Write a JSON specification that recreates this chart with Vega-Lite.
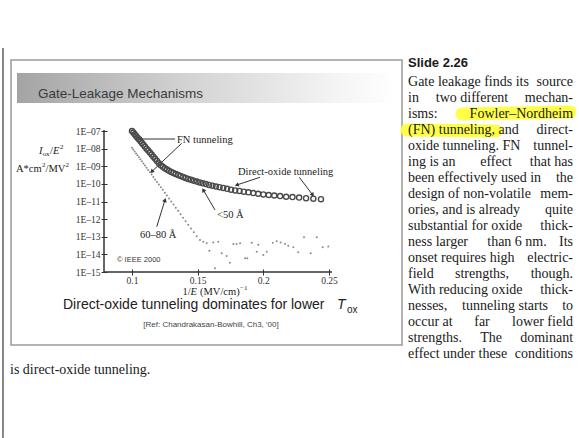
{
  "$schema": "https://vega.github.io/schema/vega-lite/v6.json",
  "width": 228,
  "height": 141,
  "autosize": {"type": "none"},
  "padding": {"left": 104, "top": 131, "right": 247, "bottom": 166},
  "background": "white",
  "config": {"view": {"stroke": null}},
  "datasets": {
    "fn": [
      {"x":0.1,"y":-7.0},{"x":0.10101,"y":-7.09},{"x":0.10204,"y":-7.18},{"x":0.10309,"y":-7.28},{"x":0.10417,"y":-7.38},{"x":0.10526,"y":-7.47},{"x":0.10638,"y":-7.57},{"x":0.10753,"y":-7.68},{"x":0.1087,"y":-7.78},{"x":0.10989,"y":-7.89},{"x":0.11111,"y":-8.0},{"x":0.11236,"y":-8.11},{"x":0.11364,"y":-8.22},{"x":0.11494,"y":-8.34},{"x":0.11628,"y":-8.46},{"x":0.11765,"y":-8.58},{"x":0.11905,"y":-8.7},{"x":0.12048,"y":-8.83},{"x":0.12195,"y":-8.94},{"x":0.12346,"y":-9.03},{"x":0.125,"y":-9.12},{"x":0.12658,"y":-9.19},{"x":0.12821,"y":-9.26},{"x":0.12987,"y":-9.33},{"x":0.13158,"y":-9.38},{"x":0.13333,"y":-9.44},{"x":0.13514,"y":-9.5},{"x":0.13699,"y":-9.55},{"x":0.13889,"y":-9.61},{"x":0.14085,"y":-9.66},{"x":0.14286,"y":-9.72},{"x":0.14493,"y":-9.77},{"x":0.14706,"y":-9.82},{"x":0.14925,"y":-9.87},{"x":0.15152,"y":-9.92},{"x":0.15385,"y":-9.97},{"x":0.15625,"y":-10.01},{"x":0.15873,"y":-10.06},{"x":0.16129,"y":-10.1},{"x":0.16393,"y":-10.15},{"x":0.16667,"y":-10.19},{"x":0.16949,"y":-10.23},{"x":0.17241,"y":-10.28},{"x":0.17544,"y":-10.33},{"x":0.17857,"y":-10.37},{"x":0.18182,"y":-10.4},{"x":0.18519,"y":-10.44},{"x":0.18868,"y":-10.48},{"x":0.19231,"y":-10.52},{"x":0.19608,"y":-10.56},{"x":0.2,"y":-10.6},{"x":0.20408,"y":-10.63},{"x":0.20833,"y":-10.66},{"x":0.21277,"y":-10.69},{"x":0.21739,"y":-10.73},{"x":0.22222,"y":-10.75},{"x":0.22727,"y":-10.78},{"x":0.23256,"y":-10.81},{"x":0.2381,"y":-10.84},{"x":0.2439,"y":-10.87}
    ],
    "thin": [
      {"x":0.1,"y":-7.95},{"x":0.10101,"y":-8.05},{"x":0.10204,"y":-8.16},{"x":0.10309,"y":-8.27},{"x":0.10417,"y":-8.38},{"x":0.10526,"y":-8.49},{"x":0.10638,"y":-8.6},{"x":0.10753,"y":-8.72},{"x":0.1087,"y":-8.84},{"x":0.10989,"y":-8.96},{"x":0.11111,"y":-9.08},{"x":0.11236,"y":-9.21},{"x":0.11364,"y":-9.34},{"x":0.11494,"y":-9.47},{"x":0.11628,"y":-9.61},{"x":0.11765,"y":-9.75},{"x":0.11905,"y":-9.89},{"x":0.12048,"y":-10.04},{"x":0.12195,"y":-10.19},{"x":0.12346,"y":-10.34},{"x":0.125,"y":-10.5},{"x":0.12658,"y":-10.66},{"x":0.12821,"y":-10.83},{"x":0.12987,"y":-11.0},{"x":0.13158,"y":-11.17},{"x":0.13333,"y":-11.35},{"x":0.13514,"y":-11.53},{"x":0.13699,"y":-11.72},{"x":0.13889,"y":-11.92},{"x":0.14085,"y":-12.12},{"x":0.14286,"y":-12.32},{"x":0.14493,"y":-12.53},{"x":0.14706,"y":-12.75},{"x":0.14925,"y":-12.97},
      {"x":0.1518,"y":-13.18},{"x":0.1543,"y":-13.28},{"x":0.1569,"y":-13.37},{"x":0.1589,"y":-13.79},{"x":0.1619,"y":-13.32},{"x":0.1632,"y":-14.79},{"x":0.1657,"y":-13.28},{"x":0.1683,"y":-13.94},{"x":0.1721,"y":-14.09},{"x":0.1746,"y":-14.47},{"x":0.1772,"y":-13.41},{"x":0.1797,"y":-13.41},{"x":0.1823,"y":-13.37},{"x":0.1861,"y":-14.22},{"x":0.1878,"y":-14.22},{"x":0.1912,"y":-13.34},{"x":0.195,"y":-13.85},{"x":0.1962,"y":-13.45},{"x":0.2,"y":-14.04},{"x":0.2026,"y":-13.85},{"x":0.2072,"y":-13.34},{"x":0.2102,"y":-13.26},{"x":0.2132,"y":-13.32},{"x":0.2165,"y":-13.41},{"x":0.219,"y":-13.51},{"x":0.2229,"y":-13.6},{"x":0.2266,"y":-13.88},{"x":0.231,"y":-13.03},{"x":0.2361,"y":-13.94},{"x":0.2407,"y":-13.03},{"x":0.2452,"y":-13.6},{"x":0.2495,"y":-13.56}
    ],
    "pageline": [{"x":0.00179,"x2":0.00179,"y":-2.291,"y2":-24.418}],
    "slidebox": [{"x":0.00789,"x2":0.30561,"y":-2.972,"y2":-19.142}],
    "header": [{"x":0.01245,"x2":0.3018,"y":-3.709,"y2":-5.411}],
    "highlight": [
      {"x":0.3513,"x2":0.43353,"y":-6.035,"y2":-5.922},
      {"x":0.30942,"x2":0.37718,"y":-6.943,"y2":-7.0}
    ],
    "title": [{"x":0.02844,"y":-4.901,"t":"Gate-Leakage Mechanisms"}],
    "caption": [{"x":0.04748,"y":-16.872,"t":"Direct-oxide tunneling dominates for lower"}],
    "captionT": [{"x":0.25612,"y":-16.872,"t":"T"}],
    "captionSub": [{"x":0.26373,"y":-17.156,"t":"ox"}],
    "ref": [{"x":0.16017,"y":-18.007,"t":"[Ref: Chandrakasan-Bowhill, Ch3, '00]"}],
    "ieee": [{"x":0.0886,"y":-14.319,"t":"© IEEE 2000"}],
    "ann": [
      {"x":0.13429,"y":-7.511,"t":"FN tunneling"},
      {"x":0.18073,"y":-9.326,"t":"Direct-oxide tunneling"},
      {"x":0.16474,"y":-11.766,"t":"<50 Å"},
      {"x":0.10611,"y":-12.901,"t":"60–80 Å"},
      {"x":0.13847,"y":-16.135,"t":"1/"},
      {"x":0.1518,"y":-16.135,"t":"(MV/cm)"},
      {"x":0.03758,"y":-8.135,"t":"/"},
      {"x":0.01169,"y":-9.156,"t":"A*cm"},
      {"x":0.03416,"y":-9.156,"t":"/MV"}
    ],
    "annItalic": [
      {"x":0.14456,"y":-16.135,"t":"E"},
      {"x":0.02921,"y":-8.135,"t":"I"},
      {"x":0.03987,"y":-8.135,"t":"E"}
    ],
    "annSmall": [
      {"x":0.18226,"y":-15.908,"t":"−1"},
      {"x":0.03187,"y":-8.305,"t":"ox"},
      {"x":0.0452,"y":-7.908,"t":"2"},
      {"x":0.03149,"y":-8.929,"t":"2"},
      {"x":0.04938,"y":-8.929,"t":"2"}
    ],
    "bodyL": [
      {"x":0.31018,"y":-4.22,"t":"Gate leakage finds its"},
      {"x":0.31018,"y":-5.128,"t":"in"},
      {"x":0.31018,"y":-6.036,"t":"isms:"},
      {"x":0.31018,"y":-6.943,"t":"(FN) tunneling, and"},
      {"x":0.31018,"y":-7.851,"t":"oxide tunneling. FN"},
      {"x":0.31018,"y":-8.759,"t":"ing is an"},
      {"x":0.31018,"y":-9.667,"t":"been effectively used in"},
      {"x":0.31018,"y":-10.575,"t":"design of non-volatile"},
      {"x":0.31018,"y":-11.482,"t":"ories, and is already"},
      {"x":0.31018,"y":-12.39,"t":"substantial for oxide"},
      {"x":0.31018,"y":-13.298,"t":"ness larger"},
      {"x":0.31018,"y":-14.206,"t":"onset requires high"},
      {"x":0.31018,"y":-15.113,"t":"field"},
      {"x":0.31018,"y":-16.021,"t":"With reducing oxide"},
      {"x":0.31018,"y":-16.929,"t":"nesses,"},
      {"x":0.31018,"y":-17.837,"t":"occur at"},
      {"x":0.31018,"y":-18.745,"t":"strengths."},
      {"x":0.31018,"y":-19.652,"t":"effect under these"},
      {"x":0.00712,"y":-20.56,"t":"is direct-oxide tunneling."}
    ],
    "bodyC": [
      {"x":0.35891,"y":-5.128,"t":"two different"},
      {"x":0.37718,"y":-8.759,"t":"effect"},
      {"x":0.39317,"y":-13.298,"t":"than 6 nm."},
      {"x":0.36652,"y":-15.113,"t":"strengths,"},
      {"x":0.38404,"y":-16.929,"t":"tunneling starts"},
      {"x":0.36652,"y":-17.837,"t":"far"},
      {"x":0.37338,"y":-18.745,"t":"The"}
    ],
    "bodyR": [
      {"x":0.43582,"y":-4.22,"t":"source"},
      {"x":0.43582,"y":-5.128,"t":"mechan-"},
      {"x":0.43582,"y":-6.036,"t":"Fowler–Nordheim"},
      {"x":0.43582,"y":-6.943,"t":"direct-"},
      {"x":0.43582,"y":-7.851,"t":"tunnel-"},
      {"x":0.43582,"y":-8.759,"t":"that has"},
      {"x":0.43582,"y":-9.667,"t":"the"},
      {"x":0.43582,"y":-10.575,"t":"mem-"},
      {"x":0.43582,"y":-11.482,"t":"quite"},
      {"x":0.43582,"y":-12.39,"t":"thick-"},
      {"x":0.43582,"y":-13.298,"t":"Its"},
      {"x":0.43582,"y":-14.206,"t":"electric-"},
      {"x":0.43582,"y":-15.113,"t":"though."},
      {"x":0.43582,"y":-16.021,"t":"thick-"},
      {"x":0.43582,"y":-16.929,"t":"to"},
      {"x":0.43582,"y":-17.837,"t":"lower field"},
      {"x":0.43582,"y":-18.745,"t":"dominant"},
      {"x":0.43582,"y":-19.652,"t":"conditions"}
    ],
    "slide": [{"x":0.31018,"y":-3.142,"t":"Slide 2.26"}],
    "axes": [
      {"x":0.0787,"x2":0.0787,"y":-15,"y2":-6.95},
      {"x":0.0787,"x2":0.2523,"y":-15,"y2":-15}
    ],
    "arrows": [
      {"x":0.13276,"y":-7.454,"x2":0.10611,"y2":-7.454,"a":270},
      {"x":0.13786,"y":-7.698,"x2":0.11502,"y2":-9.309,"a":226.6},
      {"x":0.19748,"y":-9.627,"x2":0.17974,"y2":-10.064,"a":251.7},
      {"x":0.22741,"y":-9.627,"x2":0.23761,"y2":-10.631,"a":142.9},
      {"x":0.16322,"y":-11.482,"x2":0.15431,"y2":-10.348,"a":329.7},
      {"x":0.11883,"y":-12.43,"x2":0.12515,"y2":-10.915,"a":17.3}
    ]
  },
  "encoding": {
    "x": {
      "field": "x", "type": "quantitative",
      "scale": {"domain": [0.0787, 0.2523], "nice": false, "zero": false},
      "axis": {"values": [0.1, 0.15, 0.2, 0.25], "format": "~g", "title": null, "offset": -3, "tickSize": 6, "domain": false, "grid": false, "zindex": 2, "labelFont": "Liberation Serif", "labelFontSize": 9.5, "labelColor": "#333", "tickColor": "#333", "tickWidth": 1, "labelPadding": 0}
    },
    "y": {
      "field": "y", "type": "quantitative",
      "scale": {"domain": [-15, -7], "nice": false, "zero": false},
      "axis": {"values": [-15, -14, -13, -12, -11, -10, -9, -8, -7], "labelExpr": "'1E–' + (datum.value > -10 ? '0' : '') + format(-datum.value, 'd')", "title": null, "offset": -3, "tickSize": 6, "domain": false, "grid": false, "zindex": 2, "labelFont": "Liberation Serif", "labelFontSize": 9.5, "labelColor": "#333", "tickColor": "#333", "tickWidth": 1, "labelPadding": 1}
    }
  },
  "layer": [
    {"data": {"name": "pageline"}, "mark": {"type": "rule", "color": "#111", "strokeWidth": 1}, "encoding": {"x2": {"field": "x2"}, "y2": {"field": "y2"}}},
    {"data": {"name": "slidebox"}, "mark": {"type": "rect", "fill": "white", "stroke": "#9a9a9a", "strokeWidth": 1.5}, "encoding": {"x2": {"field": "x2"}, "y2": {"field": "y2"}}},
    {"data": {"name": "header"}, "mark": {"type": "rect", "fill": {"gradient": "linear", "x1": 0, "x2": 1, "y1": 0, "y2": 0, "stops": [{"offset": 0, "color": "#a4a4a4"}, {"offset": 0.45, "color": "#d3d3d3"}, {"offset": 0.85, "color": "#f5f5f5"}, {"offset": 1, "color": "#ffffff"}]}}, "encoding": {"x2": {"field": "x2"}, "y2": {"field": "y2"}}},
    {"data": {"name": "highlight"}, "mark": {"type": "rule", "color": "#ffff33", "strokeWidth": 13, "strokeCap": "round", "opacity": 0.9}, "encoding": {"x2": {"field": "x2"}, "y2": {"field": "y2"}}},
    {"data": {"name": "title"}, "mark": {"type": "text", "align": "left", "baseline": "middle", "font": "Liberation Sans", "fontSize": 13.5, "color": "#3a3a3a"}, "encoding": {"text": {"field": "t"}}},
    {"data": {"name": "caption"}, "mark": {"type": "text", "align": "left", "baseline": "middle", "font": "Liberation Sans", "fontSize": 14, "color": "#222"}, "encoding": {"text": {"field": "t"}}},
    {"data": {"name": "captionT"}, "mark": {"type": "text", "align": "left", "baseline": "middle", "font": "Liberation Sans", "fontSize": 14, "fontStyle": "italic", "color": "#222"}, "encoding": {"text": {"field": "t"}}},
    {"data": {"name": "captionSub"}, "mark": {"type": "text", "align": "left", "baseline": "middle", "font": "Liberation Sans", "fontSize": 10, "color": "#222"}, "encoding": {"text": {"field": "t"}}},
    {"data": {"name": "ref"}, "mark": {"type": "text", "align": "center", "baseline": "middle", "font": "Liberation Sans", "fontSize": 8, "color": "#444"}, "encoding": {"text": {"field": "t"}}},
    {"data": {"name": "ieee"}, "mark": {"type": "text", "align": "left", "baseline": "middle", "font": "Liberation Sans", "fontSize": 7.5, "color": "#333"}, "encoding": {"text": {"field": "t"}}},
    {"data": {"name": "ann"}, "mark": {"type": "text", "align": "left", "baseline": "middle", "font": "Liberation Serif", "fontSize": 10.5, "color": "#222"}, "encoding": {"text": {"field": "t"}}},
    {"data": {"name": "annItalic"}, "mark": {"type": "text", "align": "left", "baseline": "middle", "font": "Liberation Serif", "fontSize": 10.5, "fontStyle": "italic", "color": "#222"}, "encoding": {"text": {"field": "t"}}},
    {"data": {"name": "annSmall"}, "mark": {"type": "text", "align": "left", "baseline": "middle", "font": "Liberation Serif", "fontSize": 7, "color": "#222"}, "encoding": {"text": {"field": "t"}}},
    {"data": {"name": "bodyL"}, "mark": {"type": "text", "align": "left", "baseline": "middle", "font": "Liberation Serif", "fontSize": 14, "color": "#1a1a1a"}, "encoding": {"text": {"field": "t"}}},
    {"data": {"name": "bodyC"}, "mark": {"type": "text", "align": "center", "baseline": "middle", "font": "Liberation Serif", "fontSize": 14, "color": "#1a1a1a"}, "encoding": {"text": {"field": "t"}}},
    {"data": {"name": "bodyR"}, "mark": {"type": "text", "align": "right", "baseline": "middle", "font": "Liberation Serif", "fontSize": 14, "color": "#1a1a1a"}, "encoding": {"text": {"field": "t"}}},
    {"data": {"name": "slide"}, "mark": {"type": "text", "align": "left", "baseline": "middle", "font": "Liberation Sans", "fontSize": 13, "fontWeight": "bold", "color": "#1a1a1a"}, "encoding": {"text": {"field": "t"}}},
    {"data": {"name": "axes"}, "mark": {"type": "rule", "color": "#333", "strokeWidth": 1.5}, "encoding": {"x2": {"field": "x2"}, "y2": {"field": "y2"}}},
    {"data": {"name": "arrows"}, "mark": {"type": "rule", "color": "#333", "strokeWidth": 1}, "encoding": {"x2": {"field": "x2"}, "y2": {"field": "y2"}}},
    {"data": {"name": "arrows"}, "mark": {"type": "point", "shape": "triangle-up", "filled": true, "color": "#333", "size": 22, "opacity": 1}, "encoding": {"x": {"field": "x2", "type": "quantitative"}, "y": {"field": "y2", "type": "quantitative"}, "angle": {"field": "a", "type": "quantitative", "scale": null}}},
    {"data": {"name": "thin"}, "mark": {"type": "circle", "color": "#8a8a8a", "size": 4, "opacity": 1}},
    {"data": {"name": "fn"}, "mark": {"type": "point", "shape": "circle", "filled": false, "stroke": "#4a4a4a", "strokeWidth": 1.4, "size": 26, "opacity": 1}}
  ]
}
